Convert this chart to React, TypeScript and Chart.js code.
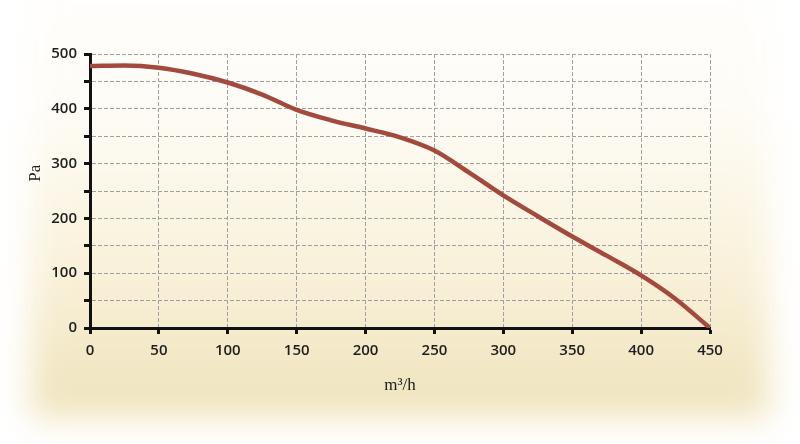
import React, { useEffect, useRef } from "react";
import { Chart, registerables } from "chart.js";

Chart.register(...registerables);

const flowRates = [0, 25, 50, 75, 100, 125, 150, 175, 200, 225, 250, 275, 300, 325, 350, 375, 400, 425, 450];
const pressures = [478, 479, 475, 464, 448, 426, 398, 379, 364, 348, 324, 284, 242, 204, 167, 132, 96, 53, 0];
const xTitle = "m³/h";
const yTitle = "Pa";

const yTitlePlugin = {
  id: "yTitlePlugin",
  afterDraw(chart: any) {
    const { ctx, chartArea } = chart;
    ctx.save();
    ctx.font = "17px 'Liberation Serif', serif";
    ctx.fillStyle = "#1a1a1a";
    ctx.textAlign = "center";
    ctx.textBaseline = "middle";
    ctx.translate(36, chartArea.top + (chartArea.bottom - chartArea.top) * 0.435);
    ctx.rotate(-Math.PI / 2);
    ctx.fillText(yTitle, 0, 0);
    ctx.restore();
  },
};

export default function App() {
  const canvasRef = useRef<HTMLCanvasElement | null>(null);

  useEffect(() => {
    if (!canvasRef.current) return;
    const tickFont = { family: "'Open Sans', sans-serif", size: 15, weight: 600 as any };
    const chart = new Chart(canvasRef.current, {
      type: "line",
      data: {
        datasets: [
          {
            data: flowRates.map((x, i) => ({ x, y: pressures[i] })),
            borderColor: "#a24a3d",
            borderWidth: 4.5,
            pointRadius: 0,
            tension: 0.4,
            cubicInterpolationMode: "monotone",
            fill: false,
          },
        ],
      },
      options: {
        animation: false,
        responsive: false,
        maintainAspectRatio: false,
        layout: { padding: { left: 0, top: 54, right: 90, bottom: 0 } },
        plugins: { legend: { display: false }, tooltip: { enabled: false } },
        scales: {
          x: {
            type: "linear",
            min: 0,
            max: 450,
            afterFit(scale: any) {
              scale.height = 116;
            },
            ticks: { stepSize: 50, color: "#1e1e1e", font: tickFont, padding: 8, maxRotation: 0 },
            grid: {
              color: "#a0a0a0",
              lineWidth: 1,
              tickLength: 6,
              tickColor: "#111",
              tickWidth: 3,
            },
            border: { display: true, color: "#111", width: 3, dash: [4, 2] },
            title: {
              display: true,
              text: xTitle,
              color: "#1a1a1a",
              font: { family: "'Liberation Serif', serif", size: 17 },
              padding: { top: 0, bottom: 48 },
            },
          },
          y: {
            type: "linear",
            min: 0,
            max: 500,
            afterFit(scale: any) {
              scale.width = 90;
            },
            ticks: {
              stepSize: 50,
              color: "#1e1e1e",
              font: tickFont,
              padding: 7,
              callback: (v: any) => (Number(v) % 100 === 0 ? String(v) : ""),
            },
            grid: {
              color: "#a0a0a0",
              lineWidth: 1,
              tickLength: 6,
              tickColor: "#111",
              tickWidth: 3,
            },
            border: { display: true, color: "#111", width: 3, dash: [4, 2] },
          },
        },
      },
      plugins: [yTitlePlugin],
    });
    return () => chart.destroy();
  }, []);

  return (
    <div
      style={{
        position: "fixed",
        left: 0,
        top: 0,
        width: 800,
        height: 444,
        background: "#ffffff",
        overflow: "hidden",
      }}
    >
      <div
        style={{
          position: "absolute",
          left: 30,
          right: 30,
          top: -80,
          bottom: 26,
          background: "linear-gradient(to bottom, #ffffff 0%, #fefcf6 38%, #f9f1da 70%, #efe3bb 100%)",
          filter: "blur(16px)",
        }}
      />
      <canvas
        ref={canvasRef}
        width={800}
        height={444}
        style={{ position: "absolute", left: 0, top: 0, width: 800, height: 444 }}
      />
    </div>
  );
}
